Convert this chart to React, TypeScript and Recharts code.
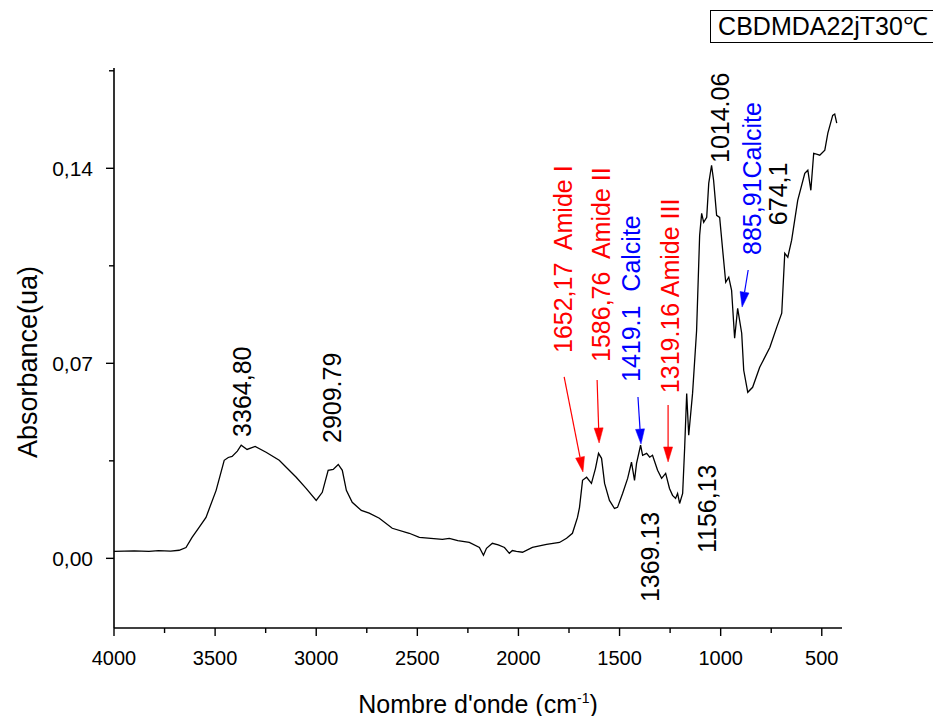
import React from 'react';
import { LineChart, Line, XAxis, YAxis, ReferenceDot, ReferenceLine } from 'recharts';

// ---- data ----
const wavenumbers = [
  4000, 3900, 3827, 3780, 3720, 3678, 3644, 3614, 3580, 3545, 3495, 3455, 3435, 3416, 3390, 3371, 3342, 3302,
  3248, 3183, 3099, 3050, 3000, 2970, 2941, 2916, 2891, 2871, 2851, 2822, 2777, 2738, 2688, 2624, 2540, 2490,
  2376, 2342, 2300, 2243, 2193, 2173, 2158, 2129, 2100, 2069, 2045, 2030, 2010, 1980, 1931, 1861, 1797, 1762,
  1733, 1708, 1698, 1683, 1663, 1639, 1619, 1604, 1589, 1574, 1550, 1525, 1510, 1485, 1460, 1441, 1426, 1416,
  1396, 1386, 1366, 1351, 1337, 1312, 1292, 1272, 1253, 1238, 1223, 1213, 1203, 1188, 1178, 1168, 1158, 1139,
  1119, 1104, 1094, 1084, 1069, 1059, 1045, 1035, 1020, 1005, 990, 975, 960, 946, 931, 916, 896, 886, 866, 842,
  807, 757, 723, 698, 683, 668, 649, 619, 584, 569, 554, 540, 510, 485, 470, 446, 436, 426,
];
const absorbance = [
  0.0025, 0.0027, 0.0025, 0.0028, 0.0026, 0.0029, 0.0039, 0.0075, 0.011, 0.0147, 0.0244, 0.0352, 0.0362, 0.0366, 0.0385, 0.0406, 0.0391, 0.0402,
  0.0381, 0.0352, 0.0291, 0.0251, 0.0208, 0.0237, 0.0316, 0.0319, 0.0337, 0.0316, 0.0244, 0.0201, 0.0172, 0.0162, 0.0144, 0.0108, 0.009, 0.0075,
  0.0068, 0.0072, 0.0064, 0.0057, 0.0039, 0.0011, 0.0036, 0.0054, 0.0048, 0.0039, 0.0018, 0.0028, 0.0025, 0.0022, 0.0039, 0.005, 0.0057, 0.0072,
  0.009, 0.0147, 0.0183, 0.028, 0.0291, 0.0269, 0.0323, 0.0377, 0.0359, 0.0269, 0.0208, 0.0179, 0.0183, 0.0233, 0.0287, 0.0345, 0.028, 0.0341,
  0.0406, 0.037, 0.0377, 0.0363, 0.037, 0.0316, 0.0287, 0.0305, 0.0251, 0.0226, 0.0215, 0.0233, 0.0197, 0.0233, 0.0398, 0.0592, 0.0442, 0.0592,
  0.0818, 0.1159, 0.1238, 0.1206, 0.1224, 0.1346, 0.1411, 0.1357, 0.1231, 0.1224, 0.1106, 0.0991, 0.1009, 0.0962, 0.079, 0.0897, 0.0808, 0.0675, 0.0596, 0.0614,
  0.0686, 0.0757, 0.0829, 0.088, 0.1095, 0.1081, 0.1142, 0.1285, 0.1382, 0.1393, 0.1321, 0.1454, 0.1447, 0.1465, 0.1526, 0.159, 0.1595, 0.1562,
];

const xMajorTicks = [4000, 3500, 3000, 2500, 2000, 1500, 1000, 500];
const xMinorTicks = [3750, 3250, 2750, 2250, 1750, 1250, 750];
const yMajorTicks = [0, 0.07, 0.14];
const yMajorLabels = ['0,00', '0,07', '0,14'];
const yMinorTicks = [0.035, 0.105, 0.175];

// peak annotations: text, wavenumber & absorbance where the text starts, colour
const peakTexts = ['3364,80', '2909.79', '1652,17  Amide I', '1586,76  Amide II', '1419.1  Calcite', '1319.16 Amide III', '1369.13', '1156,13', '1014.06', '885,91Calcite', '674,1'];
const peakTextW = [3367, 2922, 1779, 1591, 1443, 1250, 1349, 1067, 1003, 845, 716];
const peakTextA = [0.0436, 0.0414, 0.0737, 0.0705, 0.0633, 0.0593, -0.0157, 0.0019, 0.1419, 0.1089, 0.1196];
const peakColors = ['#000', '#000', '#ff0000', '#ff0000', '#0000ff', '#ff0000', '#000', '#000', '#000', '#0000ff', '#000'];

// arrows: from (w, A) to tip (w, A)
const arrowFromW = [1774, 1611, 1409, 1260, 864];
const arrowFromA = [0.0651, 0.064, 0.0579, 0.055, 0.1035];
const arrowToW = [1681, 1601, 1394, 1260, 894];
const arrowToA = [0.031, 0.0414, 0.041, 0.0346, 0.0902];
const arrowColors = ['#ff0000', '#ff0000', '#0000ff', '#ff0000', '#0000ff'];

const chartTitle = 'CBDMDA22jT30℃';

const data = wavenumbers.map((w, i) => ({ w, a: absorbance[i] }));

const FONT = '"Liberation Sans", Arial, Helvetica, sans-serif';

const XTick = (props: any) => {
  const { x, y, payload } = props;
  const v = payload.value;
  const major = xMajorTicks.includes(v);
  return (
    <g>
      <line x1={x} y1={y} x2={x} y2={y + (major ? 8 : 5)} stroke="#000" strokeWidth={1.4} />
      {major && (
        <text x={x} y={y + 30} textAnchor="middle" dominantBaseline="central" fontSize={20} fontFamily={FONT} fill="#000">
          {v}
        </text>
      )}
    </g>
  );
};

const YTick = (props: any) => {
  const { x, y, payload } = props;
  const v = payload.value;
  const idx = yMajorTicks.findIndex((t) => Math.abs(t - v) < 1e-9);
  const major = idx >= 0;
  return (
    <g>
      <line x1={x} y1={y} x2={x - (major ? 8 : 5)} y2={y} stroke="#000" strokeWidth={1.4} />
      {major && (
        <text x={x - 21} y={y} textAnchor="end" dominantBaseline="central" fontSize={21} fontFamily={FONT} fill="#000">
          {yMajorLabels[idx]}
        </text>
      )}
    </g>
  );
};

const makeTextShape = (text: string, color: string) => (p: any) => {
  const { cx, cy } = p;
  return (
    <text
      x={cx}
      y={cy}
      transform={`rotate(-90 ${cx} ${cy})`}
      textAnchor="start"
      dominantBaseline="central"
      fontSize={25}
      fontFamily={FONT}
      fill={color}
      style={{ whiteSpace: 'pre' }}
    >
      {text}
    </text>
  );
};

const makeArrowShape = (color: string) => (p: any) => {
  const { x1, y1, x2, y2 } = p;
  const dx = x2 - x1;
  const dy = y2 - y1;
  const len = Math.sqrt(dx * dx + dy * dy) || 1;
  const ux = dx / len;
  const uy = dy / len;
  const headL = 15;
  const headW = 4.5;
  const bx = x2 - ux * headL;
  const by = y2 - uy * headL;
  const pts = `${x2},${y2} ${bx - uy * headW},${by + ux * headW} ${bx + uy * headW},${by - ux * headW}`;
  return (
    <g>
      <line x1={x1} y1={y1} x2={bx} y2={by} stroke={color} strokeWidth={1.2} />
      <polygon points={pts} fill={color} stroke={color} strokeWidth={0.5} />
    </g>
  );
};

const XTitle = (props: any) => {
  const vb = props.viewBox || {};
  const cx = vb.x + vb.width / 2;
  const by = vb.y + 85;
  return (
    <text x={cx} y={by} textAnchor="middle" fontSize={25} fontFamily={FONT} fill="#000">
      <tspan>Nombre d'onde (cm</tspan>
      <tspan dy={-10} fontSize={14}>-1</tspan>
      <tspan dy={10}>)</tspan>
    </text>
  );
};

const YTitle = (props: any) => {
  const vb = props.viewBox || {};
  const cx = vb.x + 20;
  const cy = vb.y + vb.height / 2 + 14;
  return (
    <text
      x={cx}
      y={cy}
      transform={`rotate(-90 ${cx} ${cy})`}
      textAnchor="middle"
      dominantBaseline="central"
      fontSize={27}
      fontFamily={FONT}
      fill="#000"
    >
      Absorbance(ua)
    </text>
  );
};

export default function App() {
  return (
    <div style={{ position: 'relative', width: 925, height: 708, overflow: 'visible' }}>
      <LineChart width={925} height={716} data={data} margin={{ top: 60, right: 91, bottom: 16, left: 0 }}>
        <XAxis
          dataKey="w"
          type="number"
          domain={[400, 4000]}
          reversed
          allowDataOverflow
          ticks={[...xMajorTicks, ...xMinorTicks]}
          interval={0}
          tickSize={0}
          tickMargin={0}
          tick={<XTick />}
          tickLine={false}
          axisLine={{ stroke: '#000', strokeWidth: 1.6 }}
          height={80}
          label={<XTitle />}
        />
        <YAxis
          type="number"
          domain={[-0.025, 0.176]}
          allowDataOverflow
          ticks={[...yMajorTicks, ...yMinorTicks]}
          interval={0}
          tickSize={0}
          tickMargin={0}
          tick={<YTick />}
          tickLine={false}
          axisLine={{ stroke: '#000', strokeWidth: 1.6 }}
          width={106}
          label={<YTitle />}
        />
        <Line
          type="linear"
          dataKey="a"
          stroke="#000"
          strokeWidth={1.3}
          dot={false}
          activeDot={false}
          isAnimationActive={false}
        />
        {arrowFromW.map((w, i) => (
          <ReferenceLine
            key={'arr' + i}
            segment={[
              { x: w, y: arrowFromA[i] },
              { x: arrowToW[i], y: arrowToA[i] },
            ]}
            stroke={arrowColors[i]}
            shape={makeArrowShape(arrowColors[i])}
          />
        ))}
        {peakTexts.map((t, i) => (
          <ReferenceDot
            key={'pk' + i}
            x={peakTextW[i]}
            y={peakTextA[i]}
            r={0}
            shape={makeTextShape(t, peakColors[i])}
          />
        ))}
      </LineChart>
      <div
        style={{
          position: 'absolute',
          left: 702,
          top: 2,
          width: 226,
          height: 33,
          boxSizing: 'border-box',
          border: '1px solid #000',
          fontFamily: FONT,
          fontSize: 25,
          lineHeight: '31px',
          textAlign: 'center',
          color: '#000',
          whiteSpace: 'nowrap',
          background: '#fff',
        }}
      >
        {chartTitle}
      </div>
    </div>
  );
}
